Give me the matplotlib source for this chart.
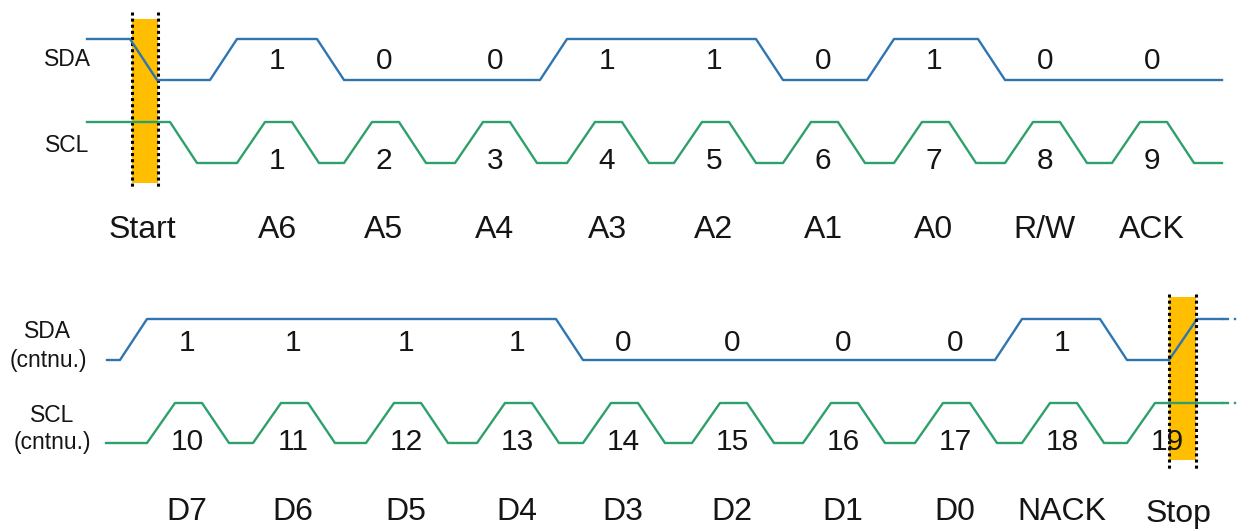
import matplotlib
matplotlib.use("Agg")
import matplotlib.pyplot as plt

plt.rcParams["font.family"] = ["Liberation Sans", "DejaVu Sans"]

# bit values and clock timing (pixel units)
top_bits = [1, 0, 0, 1, 1, 0, 1, 0, 0]
top_labels = ["A6", "A5", "A4", "A3", "A2", "A1", "A0", "R/W", "ACK"]
top_clk_rise = [237, 344, 455, 567, 674, 783, 894, 1005, 1112]
top_clk_num = [1, 2, 3, 4, 5, 6, 7, 8, 9]

bot_bits = [1, 1, 1, 1, 0, 0, 0, 0, 1]
bot_labels = ["D7", "D6", "D5", "D4", "D3", "D2", "D1", "D0", "NACK"]
bot_clk_rise = [147, 253, 366, 477, 583, 692, 803, 915, 1022, 1127]
bot_clk_num = [10, 11, 12, 13, 14, 15, 16, 17, 18, 19]

start_edge = [130, 157]   # SDA falls while SCL high
stop_edge = [1169, 1197]  # SDA rises while SCL high

# timing of one clock pulse
EDGE = 28
HIGH = 27
FALL = 27

BLUE = "#2f75b0"
GREEN = "#2ea06a"
ORANGE = "#ffbe00"
TXT = "#151515"

# row levels (y for high / low)
top_sda = (39, 80)
top_scl = (122, 163)
bot_sda = (319, 360)
bot_scl = (403, 443)
x_end = 1222

FS_BIT = 21.5
FS_LAB = 23
FS_SIDE = 16.5


def clock_pulse(xs, ys, r, lv):
    hi, lo = lv
    xs += [r, r + EDGE, r + EDGE + HIGH, r + EDGE + HIGH + FALL]
    ys += [lo, hi, hi, lo]


def level(lv, b):
    return lv[0] if b else lv[1]


fig = plt.figure(figsize=(12.39, 5.31), dpi=100)
ax = fig.add_axes([0, 0, 1, 1])
ax.set_xlim(0, 1239)
ax.set_ylim(531, 0)
ax.axis("off")

# ---- first frame: start + address ----
ax.axvspan(start_edge[0] + 2, start_edge[1] + 1, ymin=1 - 183 / 531, ymax=1 - 19 / 531,
           color=ORANGE, zorder=1, lw=0)
for xv in [start_edge[0] + 2, start_edge[1] + 1]:
    ax.plot([xv, xv], [12, 187], color="black", lw=2.2, ls=(0, (1.0, 1.0)), zorder=2)

# SDA
xs, ys = [87, start_edge[0], start_edge[1]], [top_sda[0], top_sda[0], top_sda[1]]
prev = 0
for i, b in enumerate(top_bits):
    if b != prev:
        xs += [top_clk_rise[i] - EDGE + 1, top_clk_rise[i]]
        ys += [level(top_sda, prev), level(top_sda, b)]
    prev = b
xs.append(x_end)
ys.append(level(top_sda, prev))
ax.plot(xs, ys, color=BLUE, lw=1.7, zorder=3)

# SCL
xs, ys = [87, 170, 197], [top_scl[0], top_scl[0], top_scl[1]]
for r in top_clk_rise:
    clock_pulse(xs, ys, r, top_scl)
xs.append(x_end)
ys.append(top_scl[1])
ax.plot(xs, ys, color=GREEN, lw=1.7, zorder=3)

for i, r in enumerate(top_clk_rise):
    cx = r + 40
    ax.text(cx, 61, str(top_bits[i]), fontsize=FS_BIT, ha="center", va="center", color=TXT)
    ax.text(cx, 161, str(top_clk_num[i]), fontsize=FS_BIT, ha="center", va="center", color=TXT)
    ax.text(cx, 230, top_labels[i], fontsize=FS_LAB, ha="center", va="center", color=TXT)
ax.text(142, 230, "Start", fontsize=FS_LAB, ha="center", va="center", color=TXT)
ax.text(67, 60, "SDA", fontsize=FS_SIDE, ha="center", va="center", color=TXT)
ax.text(67, 146, "SCL", fontsize=FS_SIDE, ha="center", va="center", color=TXT)

# ---- second frame: data + stop ----
ax.axvspan(stop_edge[0], stop_edge[1] - 1, ymin=1 - 460 / 531, ymax=1 - 297 / 531,
           color=ORANGE, zorder=1, lw=0)
for xv in [stop_edge[0], stop_edge[1] - 1]:
    ax.plot([xv, xv], [294, 470], color="black", lw=2.2, ls=(0, (1.0, 1.0)), zorder=4)

# SDA (continues low from ACK)
xs, ys = [107], [bot_sda[1]]
prev = 0
for i, b in enumerate(bot_bits):
    if b != prev:
        xs += [bot_clk_rise[i] - EDGE + 1, bot_clk_rise[i]]
        ys += [level(bot_sda, prev), level(bot_sda, b)]
    prev = b
# SDA goes low again for the stop condition
r9 = bot_clk_rise[-1]
xs += [r9 - EDGE + 1, r9, stop_edge[0], stop_edge[1], x_end]
ys += [bot_sda[0], bot_sda[1], bot_sda[1], bot_sda[0], bot_sda[0]]
ax.plot(xs, ys, color=BLUE, lw=1.7, zorder=3)
ax.plot([x_end, 1239], [bot_sda[0]] * 2, color=BLUE, lw=1.7, ls=(0, (3, 2, 1, 2)), zorder=3)

# SCL
xs, ys = [106], [bot_scl[1]]
for r in bot_clk_rise[:-1]:
    clock_pulse(xs, ys, r, bot_scl)
xs += [r9, r9 + EDGE, x_end]
ys += [bot_scl[1], bot_scl[0], bot_scl[0]]
ax.plot(xs, ys, color=GREEN, lw=1.7, zorder=3)
ax.plot([x_end, 1239], [bot_scl[0]] * 2, color=GREEN, lw=1.7, ls=(0, (3, 2, 1, 2)), zorder=3)

for i, r in enumerate(bot_clk_rise):
    cx = r + 40
    ax.text(cx, 442, str(bot_clk_num[i]), fontsize=FS_BIT, ha="center", va="center",
            color=TXT, zorder=5)
    if i < len(bot_bits):
        ax.text(cx, 343, str(bot_bits[i]), fontsize=FS_BIT, ha="center", va="center", color=TXT)
        ax.text(cx, 512, bot_labels[i], fontsize=FS_LAB, ha="center", va="center", color=TXT)
ax.text(1178, 514, "Stop", fontsize=FS_LAB, ha="center", va="center", color=TXT)

ax.text(47, 332, "SDA", fontsize=FS_SIDE, ha="center", va="center", color=TXT)
ax.text(48, 360, "(cntnu.)", fontsize=FS_SIDE, ha="center", va="center", color=TXT)
ax.text(52, 416, "SCL", fontsize=FS_SIDE, ha="center", va="center", color=TXT)
ax.text(52, 443, "(cntnu.)", fontsize=FS_SIDE, ha="center", va="center", color=TXT)

plt.savefig("out.png", dpi=100)
plt.close()
